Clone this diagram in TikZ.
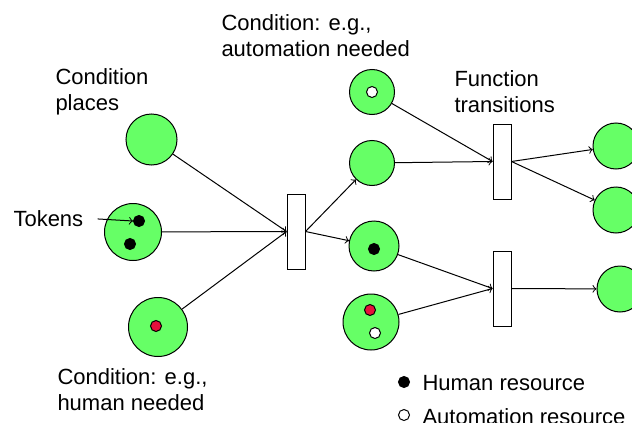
\documentclass[tikz,border=0pt]{standalone}
\usepackage{fontspec}
\setmainfont{Liberation Sans}
\usepackage{tikz}
\usetikzlibrary{shapes,arrows}
\definecolor{placegreen}{RGB}{102,255,102}
\definecolor{tokenred}{RGB}{230,16,60}

\begin{document}
\begin{tikzpicture}[x=0.5pt,y=-0.5pt,line width=0.5pt,
  place/.style={circle,draw,fill=placegreen,inner sep=0pt,minimum size=#1*0.5pt},
  trans/.style={rectangle,draw,fill=white,inner sep=0pt,minimum width=9pt,minimum height=37.5pt},
  token/.style={circle,draw,fill=black,inner sep=0pt,minimum size=5.5pt},
  autotoken/.style={token,fill=white},
  redtoken/.style={token,fill=tokenred},
  lbl/.style={anchor=base west,align=left,inner sep=0pt,font=\fontsize{11}{13}\selectfont}]
  \useasboundingbox (0,0) rectangle (632,423);
  % places
  \node[place=51] (p1) at (151.5,139.5) {};
  \node[place=57] (p2) at (133,232) {};
  \node[place=59] (p3) at (158,327) {};
  \node[place=45] (pa) at (372,92) {};
  \node[place=45] (pb) at (372,163) {};
  \node[place=50] (pc) at (374,246) {};
  \node[place=56] (pd) at (371,322) {};
  \node[place=46] (r1) at (616,146) {};
  \node[place=46] (r2) at (616,210) {};
  \node[place=46] (r3) at (620,289) {};
  % transitions
  \node[trans] (t1) at (296,231.5) {};
  \node[trans] (t2) at (502,161.5) {};
  \node[trans] (t3) at (502,288.5) {};
  % tokens
  \node[token] (tk1) at (139,221) {};
  \node[token] (tk2) at (130,244) {};
  \node[redtoken] (tk3) at (156,326) {};
  \node[autotoken] (tk4) at (372,92) {};
  \node[token] (tk5) at (374,249) {};
  \node[redtoken] (tk6) at (370,310) {};
  \node[autotoken] (tk7) at (375,333) {};
  % arcs
  \foreach \p in {p1,p2,p3} \draw[->] (\p) -- (t1.west);
  \foreach \p in {pb,pc} \draw[->] (t1.east) -- (\p);
  \foreach \p in {pa,pb} \draw[->] (\p) -- (t2.west);
  \foreach \p in {r1,r2} \draw[->] (t2.east) -- (\p);
  \foreach \p in {pc,pd} \draw[->] (\p) -- (t3.west);
  \draw[->] (t3.east) -- (r3);
  % labels (base = last line)
  \node[lbl] (lauto) at (221,56) {Condition: e.g.,\\automation needed};
  \node[lbl] (lplaces) at (55,110) {Condition\\places};
  \node[lbl] (ltrans) at (454,112) {Function\\transitions};
  \node[lbl] (ltok) at (13,226) {Tokens};
  \node[lbl] (lhuman) at (57,410) {Condition: e.g.,\\human needed};
  \draw[->,shorten <=7pt] (ltok.east) -- (tk1.west);
  % legend
  \node[token] (keyh) at (404,382) {};
  \node[autotoken] (keya) at (404,415) {};
  \node[lbl] (lkeyh) at (422,390) {Human resource};
  \node[lbl] (lkeya) at (422,424) {Automation resource};
\end{tikzpicture}
\end{document}
